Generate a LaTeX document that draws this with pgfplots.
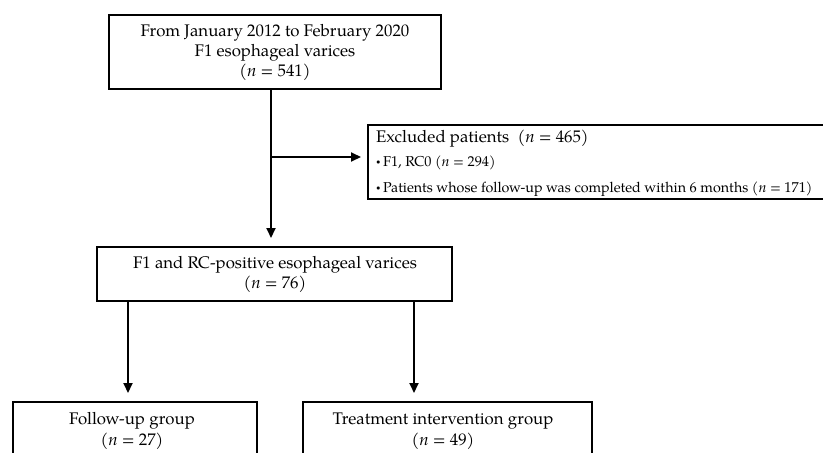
\documentclass[border=0pt]{standalone}
\usepackage{pgfplots}
\pgfplotsset{compat=1.18}
\usepackage{fontspec}
\setmainfont{TeX Gyre Pagella}
\usetikzlibrary{arrows.meta}
\begin{document}
\begin{tikzpicture}
\begin{axis}[width=823bp,height=453bp,scale only axis,
  xmin=0,xmax=823,ymin=0,ymax=453,y dir=reverse,hide axis,clip=false,
  bx/.style={black,line width=2bp,mark=none,line join=miter},
  arr/.style={bx,-{Triangle[length=10bp,width=9bp]}}]
% boxes
\addplot[bx] coordinates {(109,15) (441,15) (441,89) (109,89)} -- cycle;
\addplot[bx] coordinates {(823,125) (368,125) (368,199) (823,199)};
\addplot[bx] coordinates {(97,247) (452,247) (452,301) (97,301)} -- cycle;
\addplot[bx] coordinates {(13,453) (13,402) (257,402) (257,453)};
\addplot[bx] coordinates {(303,453) (303,402) (592,402) (592,453)};
% arrows
\addplot[arr] coordinates {(271,89) (271,238)};
\addplot[arr] coordinates {(271,157) (361,157)};
\addplot[arr] coordinates {(128,301) (128,393)};
\addplot[arr] coordinates {(414,301) (414,393)};
% texts
\node[align=center,font=\fontsize{16.8bp}{20bp}\selectfont] at (axis cs:275,52)
  {From January 2012 to February 2020\\F1 esophageal varices\\(\textit{n} = 541)};
\node[anchor=west,inner sep=0pt,font=\fontsize{16.8bp}{20bp}\selectfont] at (axis cs:376,139)
  {Excluded patients\ \ (\textit{n} = 465)};
\node[anchor=west,inner sep=0pt,font=\fontsize{14.3bp}{15bp}\selectfont] at (axis cs:376,163)
  {\raisebox{0.3ex}{\footnotesize\textbullet}\,F1, RC0 (\textit{n} = 294)};
\node[anchor=west,inner sep=0pt,font=\fontsize{14.3bp}{15bp}\selectfont] at (axis cs:376,189)
  {\raisebox{0.3ex}{\footnotesize\textbullet}\,Patients whose follow-up was completed within 6 months (\textit{n} = 171)};
\node[align=center,font=\fontsize{16.8bp}{20bp}\selectfont] at (axis cs:275,274)
  {F1 and RC-positive esophageal varices\\(\textit{n} = 76)};
\node[align=center,font=\fontsize{16.8bp}{21bp}\selectfont] at (axis cs:132,431)
  {Follow-up group\\(\textit{n} = 27)};
\node[align=center,font=\fontsize{16.8bp}{21bp}\selectfont] at (axis cs:443,431)
  {Treatment intervention group\\(\textit{n} = 49)};
\end{axis}
\pgfresetboundingbox
\path (0,0) rectangle (823bp,453bp);
\end{tikzpicture}
\end{document}
